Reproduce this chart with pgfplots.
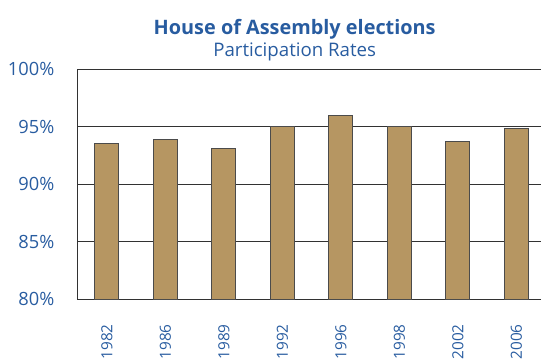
\documentclass[border=0pt]{standalone}
\usepackage{pgfplots}
\pgfplotsset{compat=1.18}
\usepackage{fontspec}
\setmainfont{Open Sans}
\definecolor{txtblue}{RGB}{40,92,160}
\definecolor{barfill}{RGB}{182,150,98}
\definecolor{bardraw}{RGB}{75,75,75}
\definecolor{gridc}{RGB}{50,50,50}
\begin{document}
\begin{tikzpicture}
\path[use as bounding box] (0pt,0pt) rectangle (405.75pt,268.5pt);
\clip (0pt,0pt) rectangle (405.75pt,268.5pt);
\node[anchor=base, text=txtblue, font=\bfseries\fontsize{14.9}{17}\selectfont, inner sep=0pt] at (221pt,242.8pt) {House of Assembly elections};
\node[anchor=base, text=txtblue, font=\fontsize{14}{16}\selectfont, inner sep=0pt] at (221pt,226pt) {Participation Rates};
\begin{axis}[
  at={(58.275pt,44.25pt)}, anchor=south west,
  scale only axis, width=351pt, height=172.5pt,
  xmin=-0.5, xmax=7.5, ymin=80, ymax=100,
  ybar, bar width=0.41,
  xtick={0,...,7},
  xticklabels={1982,1986,1989,1992,1996,1998,2002,2006},
  major x tick style={draw=none},
  extra x ticks={-0.5,0.5,1.5,2.5,3.5,4.5,5.5,6.5,7.5},
  extra x tick labels={},
  extra x tick style={major tick length=4pt, tick align=outside, xmajorgrids=false, tick style={draw=gridc, line width=0.75pt}},
  ytick={80,85,90,95,100},
  yticklabels={80\%,85\%,90\%,95\%,100\%},
  major y tick style={draw=none},
  ymajorgrids,
  grid style={draw=gridc, line width=0.75pt},
  axis line style={draw=gridc, line width=0.75pt},
  yticklabel style={text=txtblue, font=\fontsize{13.7}{15}\selectfont, xshift=-14pt},
  xticklabel style={text=txtblue, font=\fontsize{11.5}{13}\selectfont, rotate=90, anchor=east, inner sep=0pt, xshift=-14.5pt},
  clip=false,
]
\addplot[fill=barfill, draw=bardraw, line width=0.75pt] coordinates {
  (0,93.5) (1,93.85) (2,93.1) (3,95.0) (4,96.0) (5,95.0) (6,93.7) (7,94.85)
};
\end{axis}
\end{tikzpicture}
\end{document}
